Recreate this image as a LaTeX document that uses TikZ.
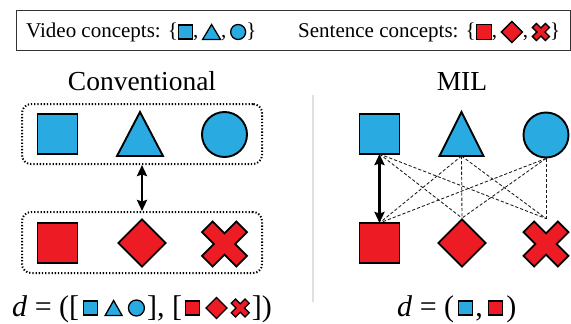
\documentclass[tikz,border=0pt]{standalone}
\usepackage{fontspec}
\setmainfont{Liberation Serif}
\usetikzlibrary{shapes.geometric, arrows.meta}
\definecolor{cblue}{HTML}{29ABE2}
\definecolor{cred}{HTML}{ED1C24}
\tikzset{
  symline/.style={draw=black, line width=1.9pt, line join=miter},
  vfill/.style={symline, fill=cblue},
  rfill/.style={symline, fill=cred},
  thinsym/.style={line width=1.3pt},
  shapebox/.style={rectangle, inner sep=0pt, outer sep=0pt},
  dotbox/.style={draw=black, rounded corners=9pt, line width=2pt, dash pattern=on 1.3pt off 1.9pt, line cap=butt, minimum width=240pt, inner sep=0pt},
  dblarrow/.style={line width=2.6pt, {Stealth[length=11pt,width=10pt,inset=1.5pt]}-{Stealth[length=11pt,width=10pt,inset=1.5pt]}},
  dashline/.style={draw=black!90, line width=0.85pt, dash pattern=on 3.2pt off 2pt},
  pics/xmark/.style={code={\draw[rfill, line width=#1, rotate=45] (7.5pt,24.3pt) -- (7.5pt,7.5pt) -- (24.3pt,7.5pt) -- (24.3pt,-7.5pt) -- (7.5pt,-7.5pt) -- (7.5pt,-24.3pt) -- (-7.5pt,-24.3pt) -- (-7.5pt,-7.5pt) -- (-24.3pt,-7.5pt) -- (-24.3pt,7.5pt) -- (-7.5pt,7.5pt) -- (-7.5pt,24.3pt) -- cycle;}},
  pics/xmark/.default=1.9pt
}
\newlength\symraise
\newcommand\Ssq[2]{\tikz[baseline={(0pt,-\symraise)}]\draw[#1,thinsym] (-#2/2,-#2/2) rectangle (#2/2,#2/2);}
\newcommand\Stri[3]{\tikz[baseline={(0pt,-\symraise)}]\draw[vfill,thinsym] (-#2/2,-#3/2) -- (#2/2,-#3/2) -- (0pt,#3/2) -- cycle;}
\newcommand\Scir[1]{\tikz[baseline={(0pt,-\symraise)}]\draw[vfill,thinsym] (0pt,0pt) circle[radius=#1/2];}
\newcommand\Sdia[1]{\tikz[baseline={(0pt,-\symraise)}]\draw[rfill,thinsym] (-#1/2,0pt) -- (0pt,-#1/2) -- (#1/2,0pt) -- (0pt,#1/2) -- cycle;}
\newcommand\Sx[1]{\tikz[baseline={(0pt,-\symraise)}]\pic[scale=#1]{xmark=1.3pt};}
\begin{document}
\begin{tikzpicture}[x=1pt,y=-1pt]
\useasboundingbox (0,0) rectangle (571,324);
% legend
\node[draw=black!80, line width=1pt, shapebox, minimum width=554pt, minimum height=40pt] (legend) at (293,30) {};
\node[anchor=base west, inner sep=0pt, font=\fontsize{21}{24}\selectfont\setlength\symraise{5pt}] (legv) at (26,37)
  {Video concepts: \{\Ssq{vfill}{14pt},\,\Stri{vfill}{18pt}{15pt},\,\Scir{15pt}\}};
\node[anchor=base west, inner sep=0pt, font=\fontsize{21}{24}\selectfont\setlength\symraise{5pt}] (legs) at (298,37)
  {Sentence concepts: \{\Ssq{rfill}{15pt},\,\Sdia{21pt},\,\Sx{0.38}\}};
% titles
\node[anchor=base, inner sep=0pt, font=\fontsize{27.5}{30}\selectfont] (tconv) at (142,90) {Conventional};
\node[anchor=base, inner sep=0pt, font=\fontsize{27.5}{30}\selectfont] (tmil) at (462,90) {MIL};
% separator
\coordinate (septop) at (313,95);
\coordinate (sepbot) at (313,302);
\draw[black!12, line width=1.5pt] (septop) -- (sepbot);
% conventional
\node[dotbox, minimum height=60pt] (topbox) at (142,134) {};
\node[dotbox, minimum height=61pt] (botbox) at (142,242.5) {};
\node[shapebox, vfill, minimum size=40pt] (csq) at (57.5,134) {};
\node[shapebox, minimum width=46pt, minimum height=44pt] (ctri) at (140,134) {};
\draw[vfill] (ctri.south west) -- (ctri.south east) -- (ctri.north) -- cycle;
\node[circle, vfill, minimum size=45pt, inner sep=0pt] (ccir) at (224.5,134.5) {};
\node[shapebox, rfill, minimum size=40pt] (crsq) at (57.5,243) {};
\node[diamond, rfill, minimum size=48pt, inner sep=0pt] (cdia) at (142,243) {};
\node[shapebox, minimum size=45pt] (cx) at (224.5,244) {};
\pic at (cx) {xmark};
\draw[dblarrow] (topbox.south) -- (botbox.north);
% MIL
\node[shapebox, vfill, minimum size=40pt] (msq) at (379.5,134) {};
\node[shapebox, minimum width=44pt, minimum height=44pt] (mtri) at (461.5,134) {};
\draw[vfill] (mtri.south west) -- (mtri.south east) -- (mtri.north) -- cycle;
\node[circle, vfill, minimum size=45pt, inner sep=0pt] (mcir) at (546,135) {};
\node[shapebox, rfill, minimum size=40pt] (mrsq) at (379.5,243) {};
\node[diamond, rfill, minimum size=48pt, inner sep=0pt] (mdia) at (462,243) {};
\node[shapebox, minimum size=45pt] (mx) at (546,244) {};
\pic at (mx) {xmark};
\coordinate (mxtop) at ([yshift=3pt]mx.north);
\draw[dashline] (msq.south) -- (mdia.north);
\draw[dashline] (msq.south) -- (mxtop);
\draw[dashline] (mtri.south) -- (mrsq.north);
\draw[dashline] (mtri.south) -- (mdia.north);
\draw[dashline] (mtri.south) -- (mxtop);
\draw[dashline] (mcir.south) -- (mrsq.north);
\draw[dashline] (mcir.south) -- (mdia.north);
\draw[dashline] (mcir.south) -- (mxtop);
\draw[dblarrow] (msq.south) -- (mrsq.north);
% formulas
\node[anchor=base west, inner sep=0pt, font=\fontsize{30}{34}\selectfont\setlength\symraise{8pt}] (fconv) at (12,316)
  {\textit{d} = ([\hspace{4pt}\Ssq{vfill}{14pt}\hspace{6pt}\Stri{vfill}{17pt}{15pt}\hspace{5pt}\Scir{16pt}\hspace{2pt}], [\hspace{3pt}\Ssq{rfill}{14pt}\hspace{5pt}\Sdia{21pt}\hspace{3pt}\Sx{0.4}\hspace{2pt}])};
\node[anchor=base west, inner sep=0pt, font=\fontsize{30}{34}\selectfont\setlength\symraise{8pt}] (fmil) at (397,316)
  {\textit{d} = (\hspace{4pt}\Ssq{vfill}{14pt}\hspace{2pt},\hspace{5pt}\Ssq{rfill}{14pt}\hspace{3pt})};
\end{tikzpicture}
\end{document}
